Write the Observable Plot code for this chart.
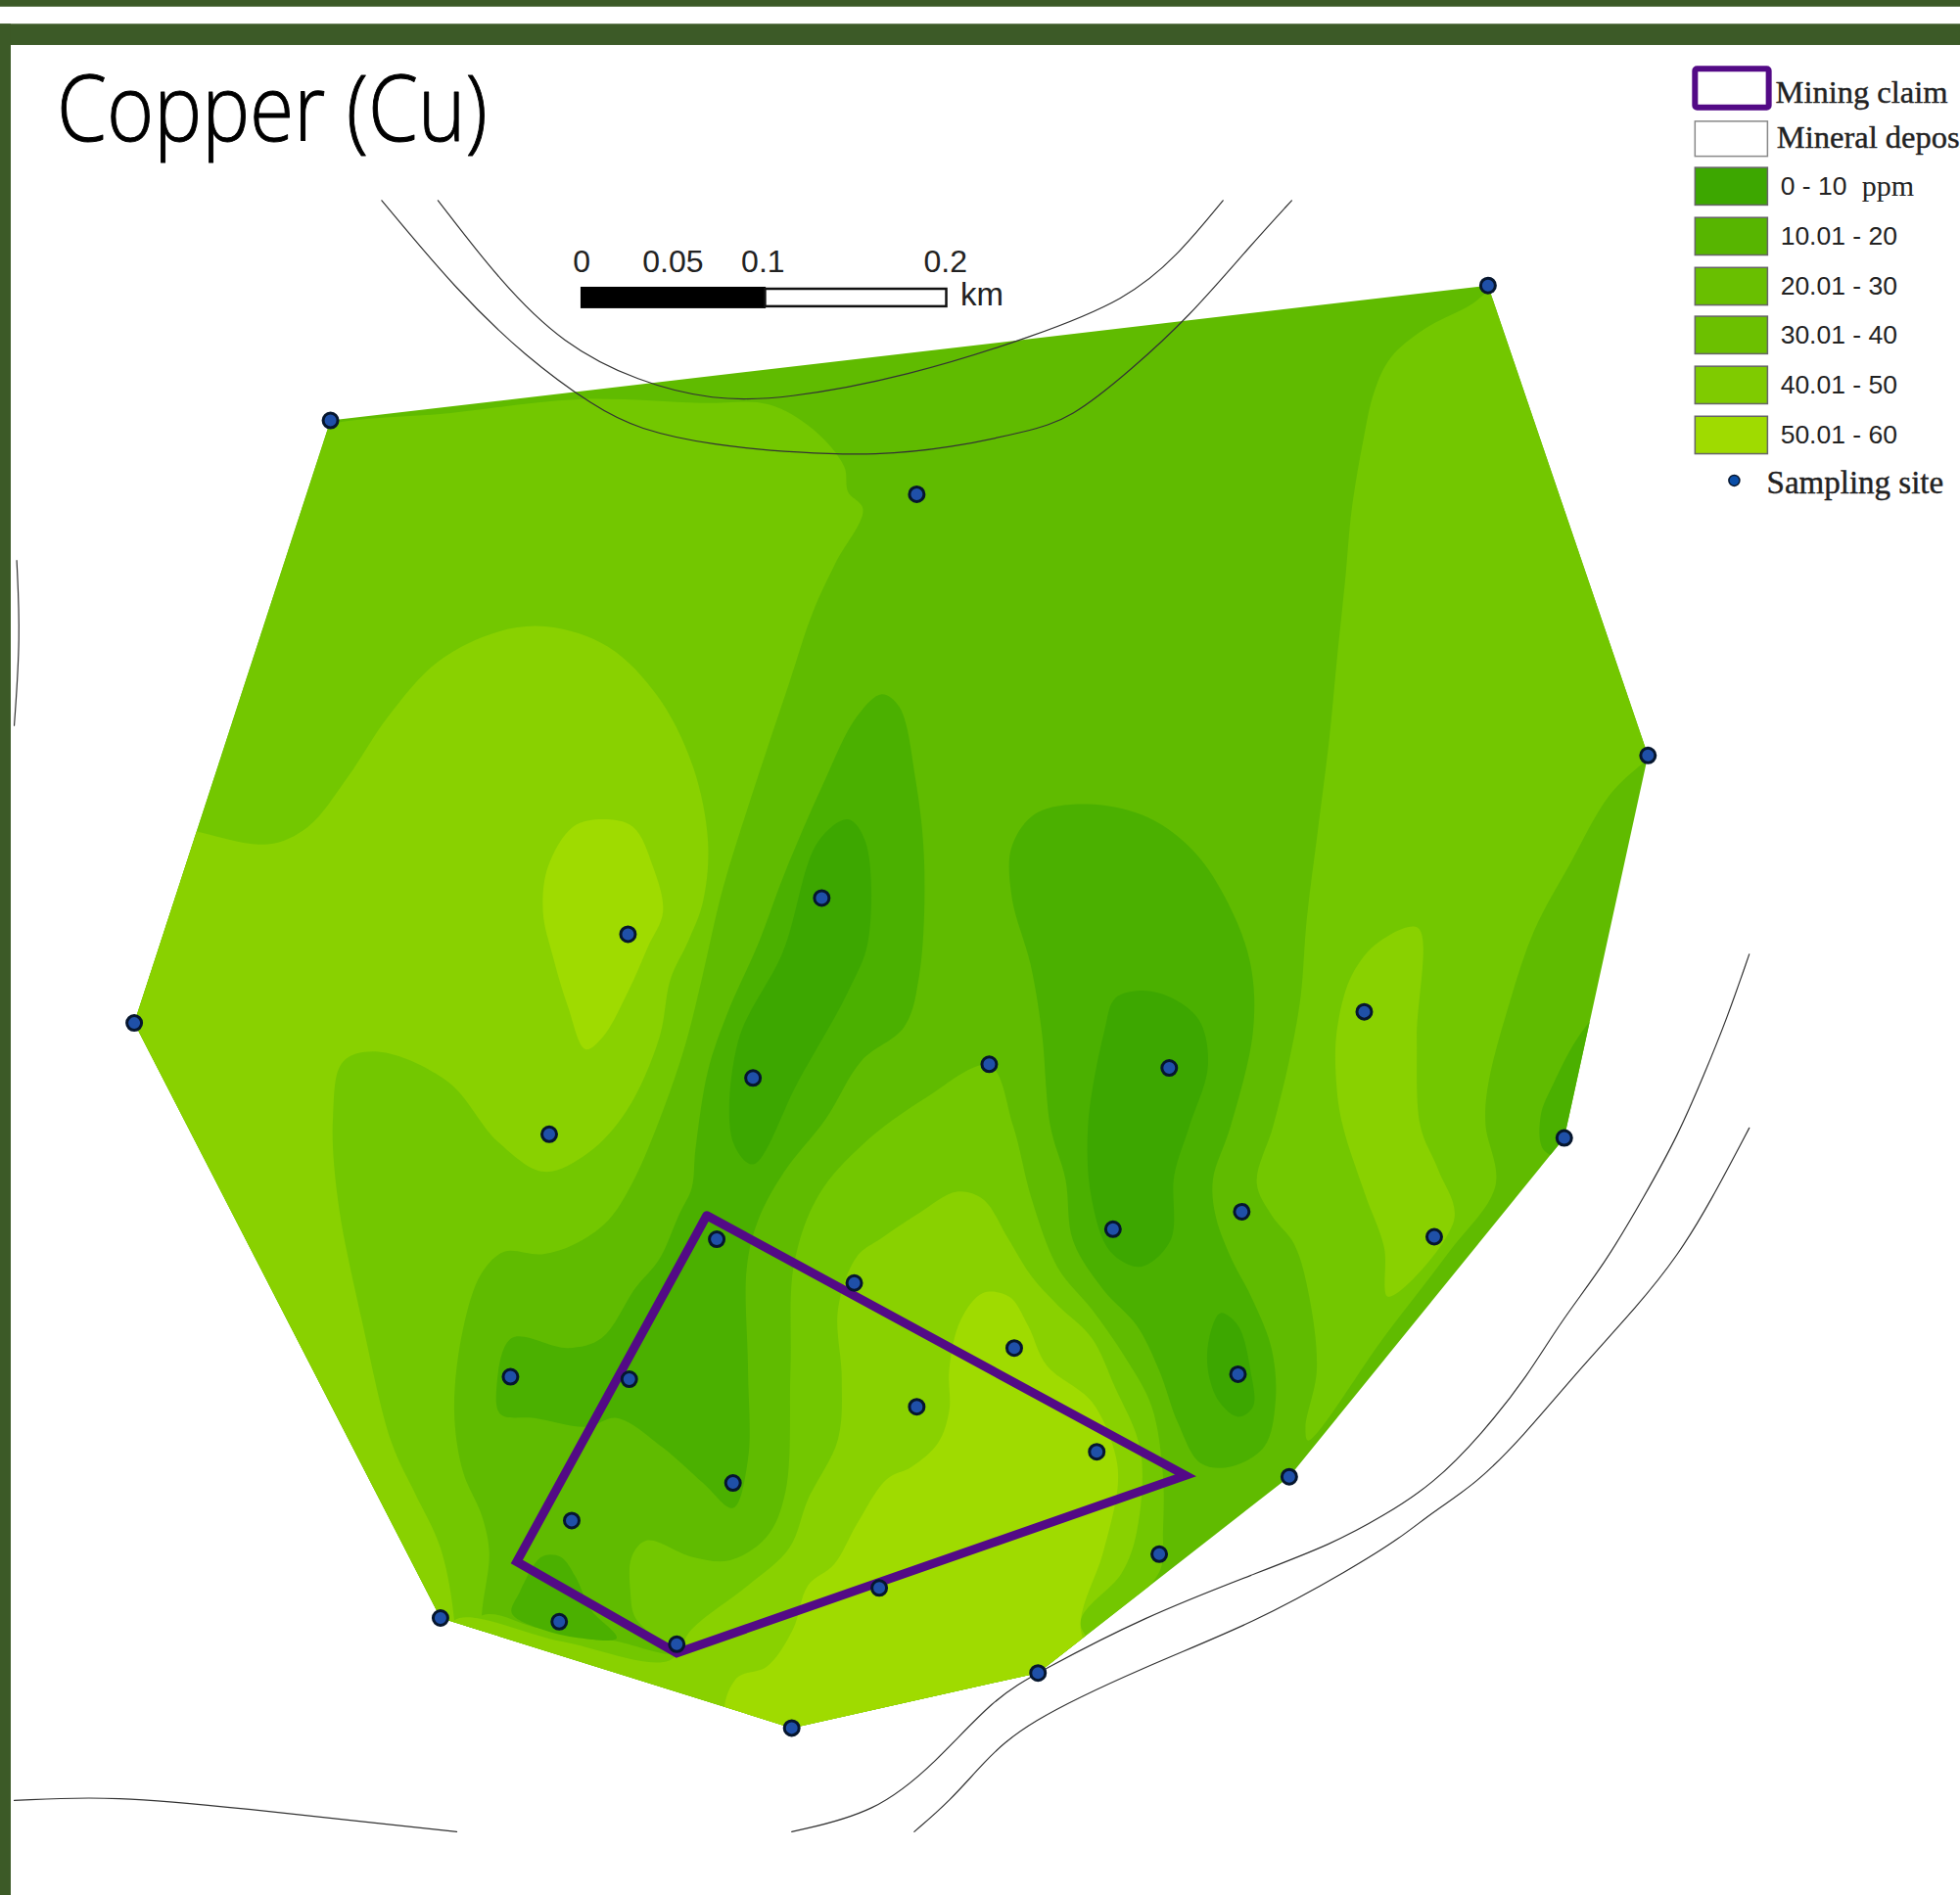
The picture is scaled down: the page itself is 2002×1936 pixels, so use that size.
<!DOCTYPE html>
<html>
<head>
<meta charset="utf-8">
<script src="https://cdn.jsdelivr.net/npm/d3@7"></script>
<script src="https://cdn.jsdelivr.net/npm/@observablehq/plot@0.6"></script>
<style>html,body{margin:0;padding:0;background:#fff}svg{display:block}</style>
</head>
<body>
<div id="chart"></div>
<script>
const levels = ["0 - 10", "10.01 - 20", "20.01 - 30", "30.01 - 40", "40.01 - 50", "50.01 - 60"];
const levelColors = ["#3da700", "#4bb000", "#60bb00", "#73c700", "#89d100", "#9fdb00"];
const legendColors = ["#3da700", "#57b500", "#69bf00", "#6cc000", "#7fcb00", "#9fdb00"];

const sites = [[264,336],[1190,228],[733,395],[1318,604],[657,718],[502,747],[107,818],[1091,809],[602,862],[791,851],[935,854],[439,907],[1251,910],[890,983],[993,969],[1147,989],[573,991],[683,1026],[811,1078],[408,1101],[503,1103],[990,1099],[733,1125],[877,1161],[586,1186],[1031,1181],[457,1216],[927,1243],[703,1270],[352,1294],[447,1297],[541,1315],[830,1338],[633,1382]];
const hull = [[264,336],[1190,228],[1318,604],[1251,910],[1031,1181],[830,1338],[633,1382],[352,1294],[107,818]];
const claim = [[565,972],[948,1180],[541,1322],[413,1249],[565,972]];

const l3West = [[240,350],[264,339],[360,330],[462,319],[560,322],[614,323],[650,343],[675,373],[678,393],[690,407],[668,450],[650,489],[630,549],[602,633],[578,710],[561,783],[548,835],[530,888],[506,945],[486,976],[459,995],[433,1003],[403,1001],[385,1018],[370,1063],[363,1128],[370,1177],[385,1212],[391,1242],[385,1292],[385,1345],[250,1345],[40,820]];
const l3South = [[791,852],[740,878],[690,915],[655,955],[635,1010],[632,1095],[628,1193],[613,1229],[583,1248],[553,1245],[517,1232],[505,1245],[504,1274],[508,1294],[536,1322],[490,1312],[430,1302],[385,1292],[350,1340],[640,1425],[850,1365],[900,1290],[928,1255],[930,1225],[930,1180],[921,1125],[900,1086],[873,1047],[846,1014],[825,959],[810,900]];
const l3East = [[1191,232],[1177,243],[1139,263],[1112,286],[1099,313],[1090,353],[1081,407],[1076,461],[1069,529],[1063,591],[1054,663],[1045,735],[1040,798],[1031,848],[1018,901],[1005,946],[1017,972],[1035,995],[1047,1037],[1053,1096],[1044,1141],[1046,1152],[1107,1069],[1159,1001],[1196,948],[1188,899],[1190,868],[1206,806],[1227,744],[1256,690],[1287,636],[1314,610],[1340,590],[1230,210]];
const l4West = [[140,660],[158,665],[214,675],[246,661],[278,621],[310,573],[350,529],[398,505],[438,501],[486,517],[526,557],[554,613],[566,673],[562,721],[550,753],[536,783],[527,830],[501,888],[470,922],[435,937],[398,913],[358,865],[302,841],[274,849],[266,893],[270,960],[290,1060],[313,1154],[331,1193],[352,1238],[363,1296],[363,1345],[200,1200],[60,830]];
const l4South = [[670,1047],[685,1005],[705,990],[735,970],[765,953],[786,959],[807,992],[825,1021],[846,1044],[873,1070],[891,1108],[912,1160],[909,1225],[897,1258],[864,1297],[880,1330],[800,1400],[640,1430],[363,1345],[363,1296],[450,1313],[535,1328],[553,1303],[598,1268],[631,1238],[646,1199],[670,1151],[673,1102]];
const l4East = [[1134,742],[1103,753],[1081,780],[1069,825],[1069,870],[1074,901],[1092,956],[1107,998],[1110,1037],[1163,975],[1150,935],[1136,901],[1133,830]];
const l5West = [[482,655],[458,661],[438,693],[434,729],[442,765],[454,805],[468,839],[482,829],[502,793],[518,757],[530,729],[522,693],[506,661]];
const l5South = [[768,1056],[786,1034],[807,1037],[822,1060],[837,1092],[873,1121],[891,1160],[894,1186],[882,1242],[864,1297],[870,1345],[640,1430],[580,1375],[589,1342],[613,1333],[634,1303],[646,1268],[667,1251],[685,1219],[709,1183],[729,1173],[750,1154],[759,1128],[759,1095]];
const l1Center = [[705,555],[685,573],[658,627],[627,699],[606,755],[582,809],[566,856],[556,919],[553,950],[543,971],[527,1007],[508,1030],[481,1070],[454,1078],[409,1070],[397,1108],[400,1131],[427,1134],[469,1141],[493,1134],[529,1157],[562,1186],[586,1206],[598,1167],[598,1095],[597,1014],[606,976],[627,937],[660,895],[689,848],[723,821],[735,780],[739,690],[732,623],[719,565]];
const l1East = [[874,643],[829,650],[809,677],[809,717],[824,771],[833,825],[840,901],[852,943],[858,992],[882,1031],[909,1060],[927,1096],[942,1138],[960,1170],[984,1173],[1011,1157],[1020,1121],[1017,1079],[1002,1040],[984,1005],[972,972],[970,943],[984,901],[1002,825],[1000,771],[982,722],[955,681],[919,654]];
const l1SouthWest = [[409,1290],[415,1274],[433,1245],[448,1245],[460,1261],[472,1287],[493,1310],[463,1310],[433,1303]];
const l1Edge = [[1275,815],[1263,828],[1243,865],[1232,893],[1235,920],[1262,925]];
const l0Center = [[678,655],[692,673],[694,753],[678,793],[638,865],[602,931],[586,913],[590,833],[626,761],[654,673]];
const l0East = [[914,792],[892,798],[883,825],[870,901],[873,959],[888,1001],[912,1013],[936,992],[939,940],[951,901],[966,852],[959,816],[937,798]];
const l0EastSmall = [[967,1070],[976,1050],[990,1060],[1000,1096],[1002,1125],[990,1133],[975,1121],[966,1096]];

const regions = [
  [3, l3West],[3, l3South],[3, l3East],
  [4, l4West],[4, l4South],[4, l4East],
  [5, l5West],[5, l5South],
  [1, l1Center],[1, l1East],[1, l1SouthWest],[1, l1Edge],
  [0, l0Center],[0, l0East],[0, l0EastSmall]
];

const roadA = [[305,160],[365,232],[420,285],[475,325],[510,343],[570,356],[640,362],[700,364],[760,358],[820,345],[856,335],[905,295],[950,254],[1000,196],[1033,160]];
const roadB = [[350,160],[400,225],[450,275],[510,305],[570,320],[627,319],[725,301],[829,268],[901,239],[941,205],[978,160]];
const roadC = [[633,1465],[700,1450],[748,1410],[795,1358],[831,1337],[915,1293],[1005,1258],[1065,1235],[1107,1212],[1146,1187],[1185,1147],[1222,1100],[1248,1057],[1284,1010],[1316,955],[1342,908],[1363,859],[1381,815],[1399,763]];
const roadD = [[731,1465],[760,1440],[786,1410],[819,1378],[915,1333],[1005,1297],[1080,1255],[1120,1230],[1146,1209],[1180,1187],[1217,1150],[1264,1094],[1310,1044],[1342,1004],[1368,961],[1399,902]];
const roadE = [[11,1440],[90,1436],[200,1447],[300,1458],[365,1465]];
const roadF = [[13,448],[16,510],[11,580]];
const roads = [roadA, roadB, roadC, roadD, roadE, roadF];

const scaleTicks = [0, 0.05, 0.1, 0.2];
const scaleTickX = [465, 538, 610, 756];

const legendRows = [134, 174, 214, 253, 293, 333].map((y, i) => ({y, label: levels[i], level: 10 + i}));

const rowsOf = (list) => list.flatMap(([level, pts], id) => pts.map(([x, y]) => ({x, y, id, level})));
const roadRows = roads.flatMap((pts, id) => pts.map(([x, y]) => ({x, y, id})));
const pt = ([x, y]) => ({x, y});
const green = "#3c5a27";

const plot = Plot.plot({
  width: 2002, height: 1936, margin: 0,
  x: {domain: [0, 1568], range: [0, 2002], axis: null},
  y: {domain: [0, 1516], range: [0, 1936], axis: null},
  color: {type: "ordinal", domain: [0,1,2,3,4,5,10,11,12,13,14,15], range: [...levelColors, ...legendColors]},
  style: {background: "#fff", overflow: "hidden"},
  marks: [
    Plot.line(hull.map(pt), {x: "x", y: "y", fill: levelColors[2], stroke: "none", curve: "linear-closed"}),
    Plot.line(rowsOf(regions), {x: "x", y: "y", z: "id", fill: "level", stroke: "none", curve: "catmull-rom-closed"}),
    Plot.line(roadRows, {x: "x", y: "y", z: "id", stroke: "#333", strokeWidth: 1.2, curve: "basis"}),
    Plot.line(claim.map(pt), {x: "x", y: "y", stroke: "#530a86", strokeWidth: 9, strokeLinejoin: "miter", strokeMiterlimit: 4}),
    Plot.dot(sites.map(pt), {x: "x", y: "y", r: 7.5, fill: "#1f50a8", stroke: "#06162e", strokeWidth: 3}),

    // frame
    Plot.rect([{a:0,b:1568,c:0,d:5.3},{a:0,b:1568,c:19,d:36},{a:0,b:8.6,c:19,d:1516}], {x1:"a", x2:"b", y1:"c", y2:"d", fill: green}),
    Plot.text(["Copper (Cu)"], {x: 45, y: 112, text: d => d, textAnchor: "start", lineAnchor: "bottom", fontSize: 94, fontWeight: 300, fontFamily: "Open Sans", fill: "#000", stroke: "#000", strokeWidth: 1}),

    // scale bar
    Plot.rect([{}], {x1: 465, x2: 612, y1: 230, y2: 246, fill: "#000", stroke: "#000", strokeWidth: 1.5}),
    Plot.rect([{}], {x1: 612, x2: 757, y1: 231, y2: 245, fill: "#fff", stroke: "#111", strokeWidth: 2.5}),
    Plot.text(scaleTicks, {x: (d, i) => scaleTickX[i], y: 209, text: d => String(d), fontSize: 32, fontFamily: "Liberation Sans", fill: "#222"}),
    Plot.text(["km"], {x: 768, y: 236, text: d => d, textAnchor: "start", fontSize: 33, fontFamily: "Liberation Sans", fill: "#222"}),

    // legend
    Plot.rect([{}], {x1: 1356, x2: 1415, y1: 55, y2: 86, fill: "#fff", stroke: "#530a86", strokeWidth: 6, rx: 2}),
    Plot.rect([{}], {x1: 1356, x2: 1414, y1: 97, y2: 125, fill: "#fff", stroke: "#888", strokeWidth: 1.5}),
    Plot.rect(legendRows, {x1: 1356, x2: 1414, y1: "y", y2: d => d.y + 30, fill: "level", stroke: "#666", strokeWidth: 1.5}),
    Plot.text(legendRows, {x: 1424, y: d => d.y + 15, text: "label", textAnchor: "start", fontSize: 26.5, fontFamily: "Liberation Sans", fill: "#222"}),
    Plot.text(["ppm"], {x: 1489, y: 149, text: d => d, textAnchor: "start", fontSize: 30, fontFamily: "Liberation Serif", fill: "#222"}),
    Plot.text(["Mining claim"], {x: 1420, y: 74, text: d => d, textAnchor: "start", fontSize: 32.5, fontFamily: "Liberation Serif", fill: "#222", stroke: "#222", strokeWidth: 0.4}),
    Plot.text(["Mineral deposit"], {x: 1421, y: 110, text: d => d, textAnchor: "start", fontSize: 32.5, fontFamily: "Liberation Serif", fill: "#222", stroke: "#222", strokeWidth: 0.4}),
    Plot.dot([{x: 1387, y: 384}], {x: "x", y: "y", r: 5.5, fill: "#0a4ea8", stroke: "#06162e", strokeWidth: 1.5}),
    Plot.text(["Sampling site"], {x: 1413, y: 386, text: d => d, textAnchor: "start", fontSize: 33, fontFamily: "Liberation Serif", fill: "#222", stroke: "#222", strokeWidth: 0.4})
  ]
});

// clip the contour bands to the convex outline of the sampling sites
const lineGroups = plot.querySelectorAll('g[aria-label="line"]');
const hullPath = lineGroups[0].querySelector("path");
const ns = "http://www.w3.org/2000/svg";
const clip = document.createElementNS(ns, "clipPath");
clip.setAttribute("id", "hull-clip");
const cp = document.createElementNS(ns, "path");
cp.setAttribute("d", hullPath.getAttribute("d"));
clip.appendChild(cp);
plot.insertBefore(clip, plot.firstChild);
lineGroups[1].setAttribute("clip-path", "url(#hull-clip)");

// the title glyphs are condensed in the original
const t = plot.querySelector('g[aria-label="text"] text');
t.setAttribute("textLength", 440);
t.setAttribute("lengthAdjust", "spacingAndGlyphs");

document.getElementById("chart").appendChild(plot);
</script>
</body>
</html>
